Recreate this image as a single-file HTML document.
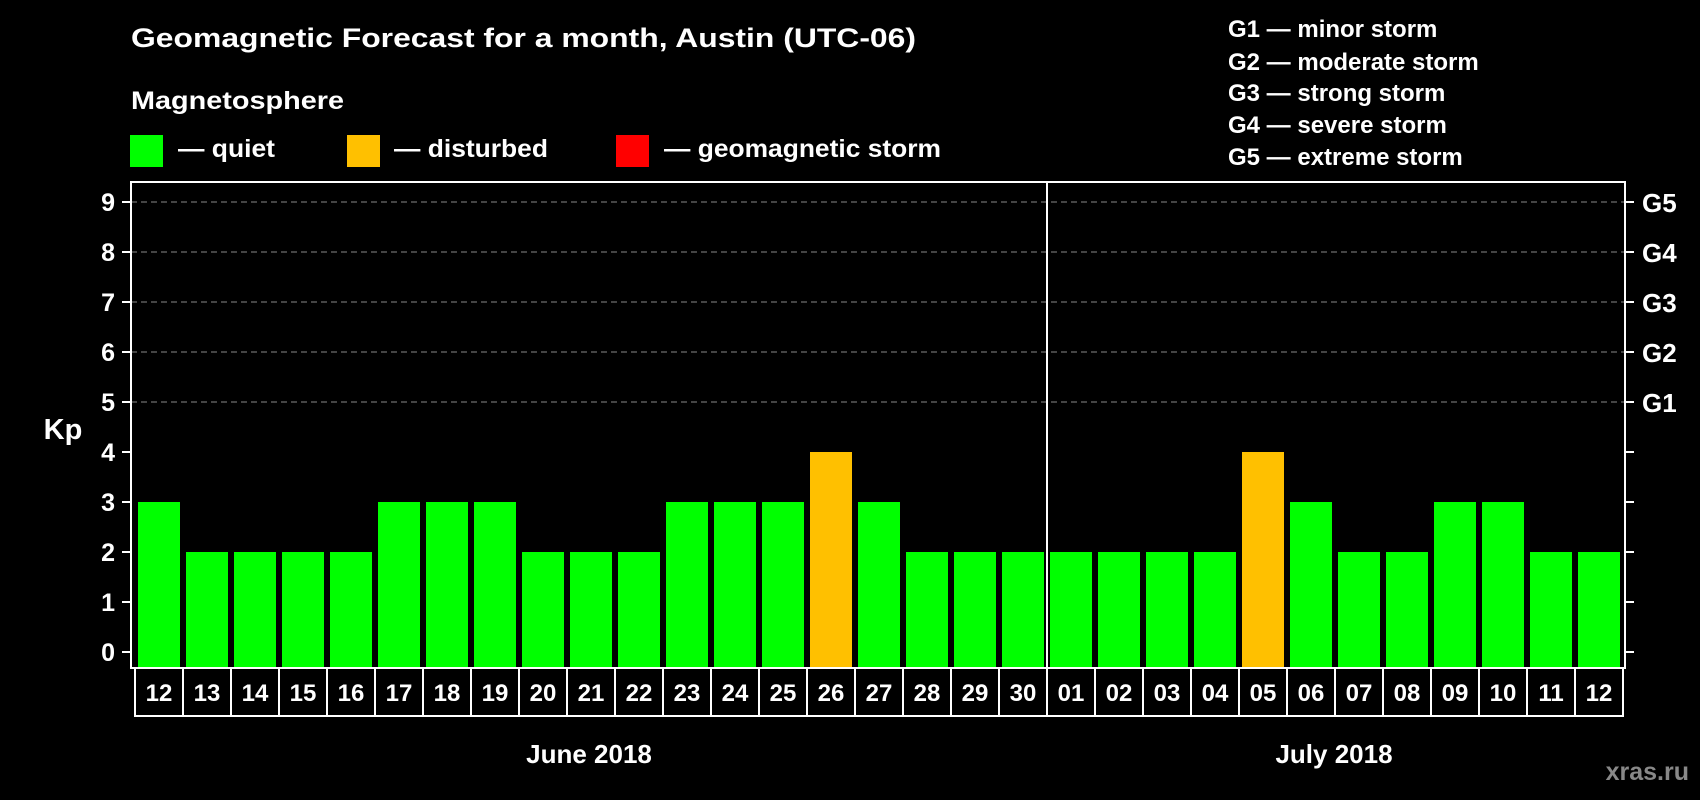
<!DOCTYPE html>
<html><head><meta charset="utf-8"><style>
html,body{margin:0;padding:0;background:#000;}
svg{display:block;font-family:"Liberation Sans",sans-serif;font-weight:bold;}
</style></head><body>
<svg id="chart" width="1700" height="800" viewBox="0 0 1700 800" xmlns="http://www.w3.org/2000/svg">
<rect x="0" y="0" width="1700" height="800" fill="#000"/>
<text x="131" y="47" fill="#fff" font-size="27" textLength="785" lengthAdjust="spacingAndGlyphs">Geomagnetic Forecast for a month, Austin (UTC-06)</text>
<text x="131" y="109" fill="#fff" font-size="25" textLength="213" lengthAdjust="spacingAndGlyphs">Magnetosphere</text>
<rect x="130" y="135" width="33" height="32" fill="#00ff00"/>
<text x="178" y="157" fill="#fff" font-size="25" textLength="97" lengthAdjust="spacingAndGlyphs">— quiet</text>
<rect x="347" y="135" width="33" height="32" fill="#ffc000"/>
<text x="394" y="157" fill="#fff" font-size="25" textLength="154" lengthAdjust="spacingAndGlyphs">— disturbed</text>
<rect x="616" y="135" width="33" height="32" fill="#ff0000"/>
<text x="664" y="157" fill="#fff" font-size="25" textLength="277" lengthAdjust="spacingAndGlyphs">— geomagnetic storm</text>
<g fill="#fff" font-size="24">
<text x="1228" y="37">G1 — minor storm</text>
<text x="1228" y="70">G2 — moderate storm</text>
<text x="1228" y="101">G3 — strong storm</text>
<text x="1228" y="133">G4 — severe storm</text>
<text x="1228" y="165">G5 — extreme storm</text>
</g>
<text x="63" y="439" fill="#fff" font-size="29" text-anchor="middle">Kp</text>
<g id="grid"></g>
<g id="bars"></g>
<g id="axes"></g>
<text x="589" y="763" fill="#fff" font-size="26" text-anchor="middle">June 2018</text>
<text x="1334" y="763" fill="#fff" font-size="26" text-anchor="middle">July 2018</text>
<text x="1689" y="780" fill="#888" font-size="25" text-anchor="end">xras.ru</text>
</svg>
<script>
const days = ["12","13","14","15","16","17","18","19","20","21","22","23","24","25","26","27","28","29","30","01","02","03","04","05","06","07","08","09","10","11","12"];
const kpValues = [3,2,2,2,2,3,3,3,2,2,2,3,3,3,4,3,2,2,2,2,2,2,2,4,3,2,2,3,3,2,2];
const yTicks = [0,1,2,3,4,5,6,7,8,9];
const gLabels = ["G1","G2","G3","G4","G5"];
const gLevels = [5,6,7,8,9];
const monthSplitIndex = 19;

(function(){
const NS = "http://www.w3.org/2000/svg";
const pL = 131, pR = 1625, pT = 182, pB = 668;
const boxLeft = 135, pitch = 48, barW = 42;
function yS(v){ return 652 - v * 50; }
function xBox(i){ return boxLeft + i * pitch; }
function mk(tag, attrs, parent){ const e = document.createElementNS(NS, tag); for (const k in attrs) e.setAttribute(k, attrs[k]); parent.appendChild(e); return e; }
function color(v){ return v >= 5 ? "#ff0000" : (v >= 4 ? "#ffc000" : "#00ff00"); }

const grid = document.getElementById("grid");
gLevels.forEach(v => {
  const l = mk("line", {x1:pL, x2:pR, y1:yS(v), y2:yS(v), stroke:"#888", "stroke-width":1, "stroke-dasharray":"6,4"}, grid);
  
  
});

const bars = document.getElementById("bars");
kpValues.forEach((v, i) => {
  const r = mk("rect", {x: xBox(i) + 3, y: yS(v), width: barW, height: pB - yS(v), fill: color(v)}, bars);
  
  
});

const axes = document.getElementById("axes");
const frame = mk("rect", {x:pL, y:pT, width:pR-pL, height:pB-pT, fill:"none", stroke:"#fff", "stroke-width":2}, axes);


const split = mk("line", {x1: xBox(monthSplitIndex), x2: xBox(monthSplitIndex), y1: pT, y2: pB, stroke:"#fff", "stroke-width":2}, axes);


yTicks.forEach(v => {
  const t1 = mk("line", {x1:122, x2:pL, y1:yS(v), y2:yS(v), stroke:"#fff", "stroke-width":2}, axes);
  
  
  const t2 = mk("line", {x1:pR, x2:1634, y1:yS(v), y2:yS(v), stroke:"#fff", "stroke-width":2}, axes);
  
  
  const tl = mk("text", {x:115, y:yS(v)+9, fill:"#fff", "font-size":25, "text-anchor":"end"}, axes);
  tl.textContent = v;
  
  
});
gLabels.forEach((g, i) => {
  const t = mk("text", {x:1642, y:yS(gLevels[i])+10, fill:"#fff", "font-size":26}, axes);
  t.textContent = g;
  
  
});
const boxes = mk("rect", {x: boxLeft, y: pB, width: days.length * pitch, height: 48, fill:"none", stroke:"#fff", "stroke-width":2}, axes);


days.forEach((d, i) => {
  if (i > 0) {
    const s = mk("line", {x1: xBox(i), x2: xBox(i), y1: pB, y2: 716, stroke:"#fff", "stroke-width":2}, axes);
    
    
  }
  const t = mk("text", {x: xBox(i) + pitch/2, y: 701, fill:"#fff", "font-size":24, "text-anchor":"middle"}, axes);
  t.textContent = d;
  
  
});
})();
</script>
</body></html>
